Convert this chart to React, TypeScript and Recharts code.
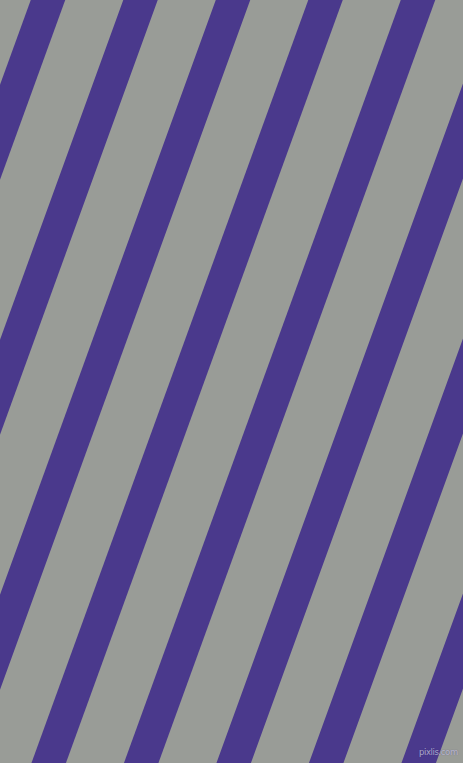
import { Line, LineChart, XAxis, YAxis } from 'recharts';

// stripe centre lines, read where each crosses the top (y = 0) and bottom (y = 763) edges
const stripeTopX = [48, 140.5, 233, 325.5, 418, 510.5, 603, 695.5];
const stripeBottomX = [-228.8, -136.3, -43.8, 48.7, 141.2, 233.7, 326.2, 418.7];
const edgeY = [0, 763];

const WIDTH = 463;
const HEIGHT = 763;

const stripes = stripeTopX.map((top, i) => [
  { x: top, y: edgeY[0] },
  { x: stripeBottomX[i], y: edgeY[1] },
]);

export default function App() {
  return (
    <div
      style={{
        position: 'fixed',
        left: 0,
        top: 0,
        width: WIDTH,
        height: HEIGHT,
        background: '#999c97',
        overflow: 'hidden',
      }}
    >
      <LineChart width={WIDTH} height={HEIGHT} margin={{ top: 0, right: 0, bottom: 0, left: 0 }}>
        <XAxis type="number" dataKey="x" domain={[0, WIDTH]} allowDataOverflow hide />
        <YAxis type="number" dataKey="y" domain={[0, HEIGHT]} allowDataOverflow reversed hide width={0} />
        {stripes.map((data, i) => (
          <Line
            key={i}
            data={data}
            dataKey="y"
            stroke="#4a398c"
            strokeWidth={32.4}
            strokeLinecap="square"
            dot={false}
            activeDot={false}
            isAnimationActive={false}
          />
        ))}
      </LineChart>
      <span
        style={{
          position: 'absolute',
          left: 419,
          top: 747,
          fontFamily: 'DejaVu Sans, sans-serif',
          fontSize: 8.5,
          letterSpacing: -0.4,
          color: 'rgba(215, 215, 235, 0.7)',
          textShadow: '0 0 1px rgba(60, 50, 110, 0.6)',
        }}
      >
        pixlis.com
      </span>
    </div>
  );
}
